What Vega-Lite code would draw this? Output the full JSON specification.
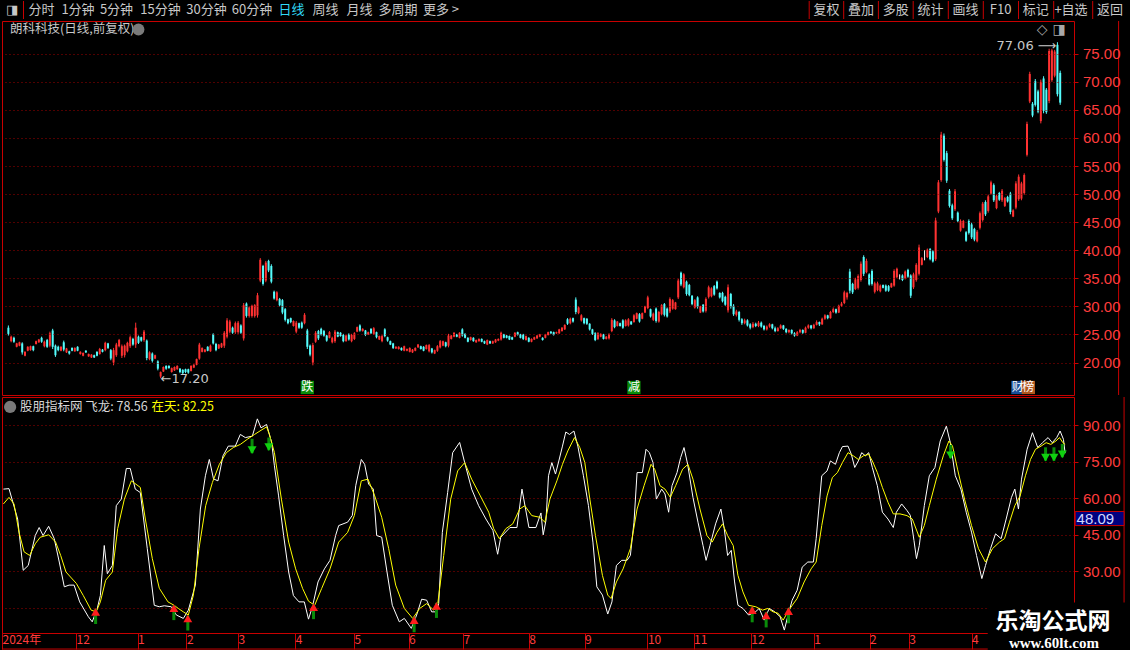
{
  "$schema": "https://vega.github.io/schema/vega-lite/v6.json",
  "background": "#000000",
  "padding": 0,
  "spacing": 0,
  "config": {
    "font": "Noto Sans CJK SC",
    "view": {"stroke": "#c80000", "strokeWidth": 1},
    "concat": {"spacing": 0}
  },
  "datasets": {
    "menu": [
      {"n": -1, "t": "◨"}, {"n": 0, "t": "分时"}, {"n": 1, "t": "1分钟"}, {"n": 2, "t": "5分钟"}, {"n": 3, "t": "15分钟"},
      {"n": 4, "t": "30分钟"}, {"n": 5, "t": "60分钟"}, {"n": 6, "t": "日线"}, {"n": 7, "t": "周线"}, {"n": 8, "t": "月线"},
      {"n": 9, "t": "多周期"}, {"n": 10, "t": "更多 >"}, {"n": 11, "t": "复权"}, {"n": 12, "t": "叠加"}, {"n": 13, "t": "多股"},
      {"n": 14, "t": "统计"}, {"n": 15, "t": "画线"}, {"n": 16, "t": "F10"}, {"n": 17, "t": "标记"}, {"n": 18, "t": "+自选"}, {"n": 19, "t": "返回"}
    ],
    "k": [
      {"i":0,"o":26.2,"h":26.6,"l":24.8,"c":25.1},{"i":1,"o":23.8,"h":24.8,"l":23.6,"c":24.6},{"i":2,"o":24.4,"h":24.6,"l":23.5,"c":23.7},
      {"i":3,"o":22.8,"h":23.5,"l":22.7,"c":23.4},{"i":4,"o":23.0,"h":23.7,"l":22.9,"c":23.6},{"i":5,"o":23.4,"h":23.6,"l":21.4,"c":21.8},
      {"i":6,"o":21.2,"h":22.0,"l":21.1,"c":21.9},{"i":7,"o":22.1,"h":22.9,"l":22.0,"c":22.8},{"i":8,"o":22.2,"h":23.0,"l":22.1,"c":22.9},
      {"i":9,"o":22.9,"h":23.0,"l":22.0,"c":22.2},{"i":10,"o":23.3,"h":23.9,"l":23.2,"c":23.8},{"i":11,"o":23.6,"h":24.2,"l":23.5,"c":24.1},
      {"i":12,"o":24.4,"h":24.6,"l":23.5,"c":23.7},{"i":13,"o":22.9,"h":23.9,"l":22.7,"c":23.7},{"i":14,"o":24.0,"h":24.2,"l":22.6,"c":22.8},
      {"i":15,"o":23.0,"h":25.5,"l":22.7,"c":25.2},{"i":16,"o":25.7,"h":26.0,"l":22.4,"c":22.8},{"i":17,"o":23.0,"h":23.2,"l":21.0,"c":21.3},
      {"i":18,"o":22.8,"h":23.0,"l":22.0,"c":22.2},{"i":19,"o":22.1,"h":22.9,"l":22.0,"c":22.8},{"i":20,"o":23.6,"h":23.9,"l":22.0,"c":22.3},
      {"i":21,"o":21.8,"h":22.6,"l":21.7,"c":22.5},{"i":22,"o":22.0,"h":22.1,"l":21.4,"c":21.6},{"i":23,"o":22.6,"h":22.7,"l":22.0,"c":22.1},
      {"i":24,"o":22.0,"h":22.7,"l":21.9,"c":22.6},{"i":25,"o":22.8,"h":22.9,"l":22.0,"c":22.1},{"i":26,"o":21.5,"h":22.0,"l":21.4,"c":21.9},
      {"i":27,"o":21.2,"h":21.8,"l":21.1,"c":21.7},{"i":28,"o":22.1,"h":22.2,"l":21.7,"c":21.8},{"i":29,"o":21.1,"h":21.6,"l":21.0,"c":21.5},
      {"i":30,"o":20.9,"h":21.5,"l":20.8,"c":21.4},{"i":31,"o":21.3,"h":21.4,"l":20.8,"c":20.9},{"i":32,"o":21.9,"h":22.0,"l":21.1,"c":21.2},
      {"i":33,"o":21.5,"h":22.6,"l":21.4,"c":22.4},{"i":34,"o":22.3,"h":22.4,"l":21.8,"c":21.9},{"i":35,"o":22.2,"h":23.7,"l":22.0,"c":23.5},
      {"i":36,"o":23.4,"h":23.5,"l":22.4,"c":22.6},{"i":37,"o":22.2,"h":22.4,"l":20.4,"c":20.7},{"i":38,"o":20.0,"h":22.6,"l":19.5,"c":22.2},
      {"i":39,"o":21.3,"h":23.5,"l":21.0,"c":23.2},{"i":40,"o":22.9,"h":24.2,"l":22.7,"c":24.0},{"i":41,"o":21.2,"h":23.2,"l":20.8,"c":22.9},
      {"i":42,"o":21.3,"h":23.2,"l":20.9,"c":23.0},{"i":43,"o":22.0,"h":23.7,"l":21.8,"c":23.5},{"i":44,"o":22.9,"h":24.8,"l":22.6,"c":24.5},
      {"i":45,"o":24.2,"h":24.4,"l":23.0,"c":23.2},{"i":46,"o":23.2,"h":27.1,"l":22.6,"c":26.2},{"i":47,"o":24.6,"h":24.8,"l":23.3,"c":23.5},
      {"i":48,"o":24.5,"h":24.6,"l":23.7,"c":23.9},{"i":49,"o":24.0,"h":25.8,"l":23.7,"c":25.5},{"i":50,"o":23.9,"h":24.1,"l":20.4,"c":20.8},
      {"i":51,"o":20.6,"h":22.0,"l":20.4,"c":21.8},{"i":52,"o":21.6,"h":21.8,"l":20.0,"c":20.3},{"i":53,"o":20.7,"h":21.4,"l":20.6,"c":21.3},
      {"i":54,"o":20.2,"h":20.4,"l":18.6,"c":18.9},{"i":55,"o":17.5,"h":18.4,"l":17.2,"c":18.3},{"i":56,"o":18.4,"h":19.3,"l":18.3,"c":19.2},
      {"i":57,"o":19.4,"h":19.5,"l":18.7,"c":18.9},{"i":58,"o":19.4,"h":19.5,"l":18.9,"c":19.0},{"i":59,"o":18.3,"h":19.1,"l":18.2,"c":19.0},
      {"i":60,"o":18.6,"h":19.3,"l":18.5,"c":19.2},{"i":61,"o":18.8,"h":19.5,"l":18.7,"c":19.4},{"i":62,"o":18.9,"h":19.0,"l":18.1,"c":18.3},
      {"i":63,"o":18.7,"h":18.8,"l":17.9,"c":18.1},{"i":64,"o":18.8,"h":18.9,"l":18.1,"c":18.3},{"i":65,"o":18.8,"h":18.9,"l":18.0,"c":18.2},
      {"i":66,"o":18.5,"h":19.5,"l":18.4,"c":19.4},{"i":67,"o":19.1,"h":19.7,"l":19.0,"c":19.6},{"i":68,"o":19.6,"h":20.7,"l":19.5,"c":20.6},
      {"i":69,"o":20.7,"h":23.5,"l":20.5,"c":23.2},{"i":70,"o":21.9,"h":22.7,"l":21.8,"c":22.6},{"i":71,"o":21.9,"h":22.4,"l":21.8,"c":22.3},
      {"i":72,"o":22.8,"h":22.9,"l":22.0,"c":22.1},{"i":73,"o":22.0,"h":23.2,"l":21.9,"c":23.0},{"i":74,"o":25.0,"h":25.2,"l":23.2,"c":23.4},
      {"i":75,"o":23.3,"h":23.5,"l":22.0,"c":22.2},{"i":76,"o":22.5,"h":23.3,"l":22.4,"c":23.2},{"i":77,"o":22.7,"h":23.5,"l":22.6,"c":23.4},
      {"i":78,"o":23.0,"h":25.6,"l":22.6,"c":25.3},{"i":79,"o":24.6,"h":27.9,"l":24.3,"c":27.5},{"i":80,"o":25.5,"h":27.6,"l":25.2,"c":27.3},
      {"i":81,"o":26.2,"h":26.4,"l":25.1,"c":25.3},{"i":82,"o":25.4,"h":27.3,"l":25.1,"c":27.0},{"i":83,"o":25.4,"h":27.4,"l":25.1,"c":27.1},
      {"i":84,"o":26.6,"h":26.8,"l":25.1,"c":25.3},{"i":85,"o":24.3,"h":30.6,"l":23.9,"c":30.2},{"i":86,"o":30.5,"h":30.7,"l":28.0,"c":28.3},
      {"i":87,"o":28.3,"h":30.0,"l":28.0,"c":29.8},{"i":88,"o":28.3,"h":30.3,"l":28.0,"c":30.1},{"i":89,"o":28.3,"h":30.4,"l":28.0,"c":30.2},
      {"i":90,"o":28.4,"h":32.4,"l":28.0,"c":32.0},{"i":91,"o":34.6,"h":38.6,"l":34.3,"c":38.3},{"i":92,"o":37.2,"h":37.4,"l":33.7,"c":34.0},
      {"i":93,"o":34.6,"h":38.1,"l":34.3,"c":37.8},{"i":94,"o":38.1,"h":38.3,"l":36.1,"c":36.4},{"i":95,"o":37.2,"h":37.5,"l":34.1,"c":34.4},
      {"i":96,"o":32.6,"h":32.8,"l":31.2,"c":31.4},{"i":97,"o":31.1,"h":32.7,"l":30.9,"c":32.5},{"i":98,"o":31.3,"h":31.5,"l":30.0,"c":30.2},
      {"i":99,"o":31.1,"h":31.3,"l":28.6,"c":28.9},{"i":100,"o":29.5,"h":29.7,"l":27.3,"c":27.6},{"i":101,"o":27.7,"h":27.8,"l":26.8,"c":27.0},
      {"i":102,"o":27.9,"h":28.0,"l":27.0,"c":27.2},{"i":103,"o":26.5,"h":27.5,"l":26.4,"c":27.4},{"i":104,"o":25.5,"h":27.4,"l":25.2,"c":27.1},
      {"i":105,"o":27.0,"h":27.1,"l":26.0,"c":26.2},{"i":106,"o":27.1,"h":27.3,"l":26.0,"c":26.2},{"i":107,"o":27.0,"h":28.8,"l":26.8,"c":28.5},
      {"i":108,"o":25.7,"h":26.0,"l":22.4,"c":22.8},{"i":109,"o":23.0,"h":23.2,"l":21.1,"c":21.4},{"i":110,"o":20.0,"h":23.5,"l":19.5,"c":23.1},
      {"i":111,"o":23.7,"h":25.6,"l":23.5,"c":25.3},{"i":112,"o":25.6,"h":25.8,"l":24.0,"c":24.3},{"i":113,"o":26.0,"h":26.2,"l":24.8,"c":25.0},
      {"i":114,"o":25.6,"h":25.8,"l":24.6,"c":24.8},{"i":115,"o":24.8,"h":24.9,"l":23.7,"c":23.9},{"i":116,"o":24.4,"h":25.6,"l":24.3,"c":25.4},
      {"i":117,"o":23.6,"h":24.6,"l":23.4,"c":24.4},{"i":118,"o":23.8,"h":25.8,"l":23.5,"c":25.5},{"i":119,"o":25.4,"h":25.5,"l":24.5,"c":24.6},
      {"i":120,"o":25.3,"h":25.4,"l":24.6,"c":24.7},{"i":121,"o":24.9,"h":25.1,"l":23.6,"c":23.8},{"i":122,"o":23.8,"h":24.9,"l":23.7,"c":24.8},
      {"i":123,"o":25.0,"h":25.2,"l":23.9,"c":24.1},{"i":124,"o":23.8,"h":25.1,"l":23.6,"c":24.9},{"i":125,"o":24.2,"h":25.4,"l":24.0,"c":25.2},
      {"i":126,"o":25.5,"h":26.4,"l":25.4,"c":26.3},{"i":127,"o":26.6,"h":26.8,"l":25.5,"c":25.7},{"i":128,"o":25.6,"h":26.1,"l":25.5,"c":26.0},
      {"i":129,"o":25.7,"h":25.8,"l":24.7,"c":24.9},{"i":130,"o":25.0,"h":25.5,"l":24.9,"c":25.4},{"i":131,"o":26.0,"h":26.1,"l":25.1,"c":25.2},
      {"i":132,"o":25.1,"h":26.3,"l":24.9,"c":26.1},{"i":133,"o":25.4,"h":25.5,"l":24.3,"c":24.5},{"i":134,"o":24.1,"h":24.8,"l":24.0,"c":24.7},
      {"i":135,"o":23.8,"h":24.9,"l":23.6,"c":24.7},{"i":136,"o":25.9,"h":26.1,"l":24.5,"c":24.7},{"i":137,"o":24.5,"h":24.6,"l":23.7,"c":23.9},
      {"i":138,"o":23.8,"h":23.9,"l":23.1,"c":23.2},{"i":139,"o":23.4,"h":23.5,"l":22.4,"c":22.6},{"i":140,"o":22.5,"h":22.9,"l":22.4,"c":22.8},
      {"i":141,"o":22.4,"h":22.9,"l":22.3,"c":22.8},{"i":142,"o":22.6,"h":22.7,"l":22.1,"c":22.2},{"i":143,"o":22.1,"h":23.0,"l":22.0,"c":22.9},
      {"i":144,"o":22.1,"h":22.5,"l":22.0,"c":22.4},{"i":145,"o":21.9,"h":22.7,"l":21.8,"c":22.6},{"i":146,"o":21.8,"h":22.4,"l":21.7,"c":22.3},
      {"i":147,"o":22.1,"h":22.7,"l":22.0,"c":22.6},{"i":148,"o":22.7,"h":23.3,"l":22.6,"c":23.2},{"i":149,"o":22.9,"h":23.0,"l":22.3,"c":22.4},
      {"i":150,"o":22.8,"h":22.9,"l":22.0,"c":22.1},{"i":151,"o":22.4,"h":23.2,"l":22.3,"c":23.1},{"i":152,"o":22.0,"h":23.3,"l":21.8,"c":23.1},
      {"i":153,"o":22.5,"h":22.6,"l":21.6,"c":21.8},{"i":154,"o":21.6,"h":22.3,"l":21.5,"c":22.2},{"i":155,"o":22.1,"h":23.1,"l":21.9,"c":22.9},
      {"i":156,"o":22.7,"h":24.0,"l":22.5,"c":23.8},{"i":157,"o":23.0,"h":23.9,"l":22.9,"c":23.8},{"i":158,"o":23.6,"h":23.7,"l":22.7,"c":22.9},
      {"i":159,"o":23.0,"h":25.1,"l":22.7,"c":24.8},{"i":160,"o":24.2,"h":24.9,"l":24.1,"c":24.8},{"i":161,"o":24.6,"h":25.4,"l":24.5,"c":25.3},
      {"i":162,"o":25.0,"h":25.1,"l":24.5,"c":24.6},{"i":163,"o":24.4,"h":25.4,"l":24.3,"c":25.3},{"i":164,"o":25.9,"h":26.1,"l":24.6,"c":24.8},
      {"i":165,"o":25.1,"h":25.2,"l":24.3,"c":24.4},{"i":166,"o":24.4,"h":24.5,"l":23.6,"c":23.7},{"i":167,"o":24.0,"h":24.6,"l":23.9,"c":24.5},
      {"i":168,"o":24.4,"h":24.5,"l":23.7,"c":23.8},{"i":169,"o":23.6,"h":24.1,"l":23.5,"c":24.0},{"i":170,"o":23.8,"h":24.3,"l":23.7,"c":24.2},
      {"i":171,"o":24.2,"h":24.3,"l":23.6,"c":23.7},{"i":172,"o":23.8,"h":23.9,"l":23.3,"c":23.4},{"i":173,"o":23.2,"h":24.1,"l":23.1,"c":24.0},
      {"i":174,"o":23.8,"h":23.9,"l":23.3,"c":23.4},{"i":175,"o":23.4,"h":23.9,"l":23.3,"c":23.8},{"i":176,"o":23.6,"h":24.2,"l":23.5,"c":24.1},
      {"i":177,"o":23.9,"h":24.3,"l":23.8,"c":24.2},{"i":178,"o":24.1,"h":25.5,"l":23.9,"c":25.3},{"i":179,"o":25.0,"h":25.1,"l":24.3,"c":24.4},
      {"i":180,"o":24.8,"h":24.9,"l":24.3,"c":24.4},{"i":181,"o":24.7,"h":24.8,"l":24.0,"c":24.1},{"i":182,"o":24.5,"h":24.6,"l":24.0,"c":24.1},
      {"i":183,"o":24.6,"h":25.4,"l":24.5,"c":25.3},{"i":184,"o":25.4,"h":25.5,"l":24.8,"c":24.9},{"i":185,"o":25.0,"h":25.1,"l":24.3,"c":24.4},
      {"i":186,"o":25.0,"h":25.1,"l":24.0,"c":24.2},{"i":187,"o":24.0,"h":24.8,"l":23.9,"c":24.7},{"i":188,"o":24.4,"h":24.5,"l":23.6,"c":23.7},
      {"i":189,"o":23.7,"h":24.3,"l":23.6,"c":24.2},{"i":190,"o":24.1,"h":24.6,"l":24.0,"c":24.5},{"i":191,"o":24.3,"h":24.9,"l":24.2,"c":24.8},
      {"i":192,"o":24.6,"h":25.1,"l":24.5,"c":25.0},{"i":193,"o":24.4,"h":24.5,"l":23.9,"c":24.0},{"i":194,"o":24.4,"h":25.1,"l":24.3,"c":25.0},
      {"i":195,"o":24.9,"h":25.5,"l":24.8,"c":25.4},{"i":196,"o":25.5,"h":25.6,"l":25.1,"c":25.2},{"i":197,"o":25.4,"h":25.5,"l":24.8,"c":24.9},
      {"i":198,"o":25.2,"h":25.5,"l":25.1,"c":25.4},{"i":199,"o":25.2,"h":26.0,"l":25.1,"c":25.9},{"i":200,"o":25.6,"h":26.3,"l":25.5,"c":26.2},
      {"i":201,"o":25.9,"h":26.8,"l":25.8,"c":26.7},{"i":202,"o":27.7,"h":27.9,"l":26.7,"c":26.9},{"i":203,"o":27.0,"h":28.0,"l":26.8,"c":27.8},
      {"i":204,"o":27.9,"h":28.0,"l":27.1,"c":27.3},{"i":205,"o":31.2,"h":31.6,"l":28.6,"c":29.0},{"i":206,"o":28.8,"h":30.0,"l":28.6,"c":29.8},
      {"i":207,"o":27.5,"h":28.6,"l":27.3,"c":28.4},{"i":208,"o":27.9,"h":28.0,"l":26.8,"c":27.0},{"i":209,"o":27.8,"h":27.9,"l":26.7,"c":26.9},
      {"i":210,"o":26.9,"h":27.0,"l":25.7,"c":25.9},{"i":211,"o":25.9,"h":26.0,"l":24.9,"c":25.1},{"i":212,"o":25.2,"h":25.4,"l":23.8,"c":24.0},
      {"i":213,"o":24.2,"h":25.4,"l":24.0,"c":25.2},{"i":214,"o":24.6,"h":25.2,"l":24.5,"c":25.1},{"i":215,"o":25.0,"h":25.1,"l":24.1,"c":24.2},
      {"i":216,"o":24.2,"h":24.7,"l":24.1,"c":24.6},{"i":217,"o":24.3,"h":25.2,"l":24.1,"c":25.0},{"i":218,"o":25.6,"h":27.9,"l":25.4,"c":27.6},
      {"i":219,"o":27.5,"h":27.7,"l":26.1,"c":26.3},{"i":220,"o":26.5,"h":27.4,"l":26.4,"c":27.3},{"i":221,"o":27.0,"h":27.1,"l":26.4,"c":26.5},
      {"i":222,"o":27.5,"h":27.7,"l":26.0,"c":26.2},{"i":223,"o":26.5,"h":27.7,"l":26.4,"c":27.5},{"i":224,"o":26.6,"h":27.9,"l":26.4,"c":27.7},
      {"i":225,"o":27.3,"h":27.4,"l":26.7,"c":26.8},{"i":226,"o":27.2,"h":28.6,"l":27.1,"c":28.4},{"i":227,"o":27.8,"h":28.9,"l":27.7,"c":28.8},
      {"i":228,"o":28.6,"h":28.8,"l":27.1,"c":27.3},{"i":229,"o":27.8,"h":28.9,"l":27.7,"c":28.8},{"i":230,"o":28.9,"h":30.1,"l":28.8,"c":30.0},
      {"i":231,"o":29.7,"h":31.9,"l":29.5,"c":31.6},{"i":232,"o":29.5,"h":29.6,"l":28.0,"c":28.2},{"i":233,"o":27.6,"h":28.9,"l":27.4,"c":28.7},
      {"i":234,"o":29.6,"h":29.8,"l":27.1,"c":27.4},{"i":235,"o":27.3,"h":29.2,"l":27.1,"c":29.0},{"i":236,"o":28.6,"h":30.4,"l":28.4,"c":30.2},
      {"i":237,"o":30.4,"h":30.6,"l":28.2,"c":28.5},{"i":238,"o":29.6,"h":29.8,"l":28.0,"c":28.2},{"i":239,"o":29.1,"h":31.6,"l":28.8,"c":31.3},
      {"i":240,"o":29.6,"h":31.3,"l":29.4,"c":31.1},{"i":241,"o":29.5,"h":30.8,"l":29.4,"c":30.7},{"i":242,"o":31.6,"h":34.9,"l":31.3,"c":34.6},
      {"i":243,"o":36.0,"h":36.2,"l":33.6,"c":33.9},{"i":244,"o":33.4,"h":35.9,"l":33.2,"c":35.7},{"i":245,"o":34.4,"h":34.6,"l":31.9,"c":32.2},
      {"i":246,"o":33.8,"h":34.0,"l":31.8,"c":32.0},{"i":247,"o":31.9,"h":32.0,"l":30.2,"c":30.4},{"i":248,"o":29.8,"h":31.3,"l":29.6,"c":31.1},
      {"i":249,"o":31.6,"h":31.8,"l":29.6,"c":29.9},{"i":250,"o":28.9,"h":30.1,"l":28.8,"c":30.0},{"i":251,"o":30.3,"h":30.4,"l":28.9,"c":29.1},
      {"i":252,"o":29.2,"h":31.6,"l":28.9,"c":31.3},{"i":253,"o":31.7,"h":33.7,"l":31.4,"c":33.4},{"i":254,"o":31.8,"h":33.4,"l":31.6,"c":33.2},
      {"i":255,"o":33.6,"h":33.8,"l":31.9,"c":32.1},{"i":256,"o":34.4,"h":34.6,"l":33.0,"c":33.2},{"i":257,"o":32.4,"h":32.5,"l":31.4,"c":31.6},
      {"i":258,"o":32.4,"h":32.6,"l":30.7,"c":30.9},{"i":259,"o":31.7,"h":31.9,"l":30.1,"c":30.3},{"i":260,"o":29.3,"h":33.9,"l":28.9,"c":33.4},
      {"i":261,"o":32.2,"h":32.4,"l":29.6,"c":30.0},{"i":262,"o":30.1,"h":30.4,"l":28.3,"c":28.6},{"i":263,"o":28.5,"h":29.4,"l":28.2,"c":29.1},
      {"i":264,"o":29.0,"h":29.2,"l":27.3,"c":27.6},{"i":265,"o":27.7,"h":27.9,"l":26.7,"c":27.0},{"i":266,"o":27.0,"h":27.8,"l":26.8,"c":27.5},
      {"i":267,"o":27.5,"h":27.7,"l":26.4,"c":26.6},{"i":268,"o":26.8,"h":27.0,"l":25.9,"c":26.2},{"i":269,"o":26.3,"h":27.2,"l":26.1,"c":26.9},
      {"i":270,"o":26.9,"h":27.1,"l":26.3,"c":26.5},{"i":271,"o":26.5,"h":27.4,"l":26.3,"c":27.1},{"i":272,"o":27.1,"h":27.3,"l":26.2,"c":26.4},
      {"i":273,"o":26.5,"h":26.7,"l":25.7,"c":25.9},{"i":274,"o":25.9,"h":26.6,"l":25.7,"c":26.4},{"i":275,"o":26.4,"h":27.0,"l":26.2,"c":26.8},
      {"i":276,"o":26.8,"h":26.9,"l":25.9,"c":26.1},{"i":277,"o":26.1,"h":26.4,"l":25.4,"c":25.6},{"i":278,"o":25.6,"h":26.3,"l":25.5,"c":26.1},
      {"i":279,"o":26.1,"h":26.8,"l":26.0,"c":26.6},{"i":280,"o":26.6,"h":26.7,"l":25.8,"c":26.0},{"i":281,"o":26.0,"h":26.1,"l":25.2,"c":25.4},
      {"i":282,"o":25.4,"h":25.9,"l":25.2,"c":25.8},{"i":283,"o":25.8,"h":25.9,"l":25.0,"c":25.2},{"i":284,"o":25.2,"h":25.4,"l":24.6,"c":24.8},
      {"i":285,"o":24.8,"h":25.6,"l":24.7,"c":25.4},{"i":286,"o":25.4,"h":26.0,"l":25.2,"c":25.8},{"i":287,"o":25.8,"h":25.9,"l":25.1,"c":25.3},
      {"i":288,"o":25.3,"h":26.4,"l":25.2,"c":26.2},{"i":289,"o":26.2,"h":26.8,"l":26.0,"c":26.6},{"i":290,"o":26.6,"h":26.7,"l":25.9,"c":26.1},
      {"i":291,"o":26.1,"h":26.9,"l":26.0,"c":26.7},{"i":292,"o":26.7,"h":27.5,"l":26.6,"c":27.2},{"i":293,"o":27.2,"h":27.3,"l":26.5,"c":26.8},
      {"i":294,"o":26.8,"h":28.0,"l":26.7,"c":27.8},{"i":295,"o":27.8,"h":28.6,"l":27.6,"c":28.4},{"i":296,"o":28.4,"h":28.5,"l":27.7,"c":27.9},
      {"i":297,"o":27.9,"h":29.2,"l":27.8,"c":29.0},{"i":298,"o":29.0,"h":29.8,"l":28.8,"c":29.5},{"i":299,"o":29.5,"h":29.6,"l":28.7,"c":28.9},
      {"i":300,"o":28.9,"h":30.3,"l":28.8,"c":30.1},{"i":301,"o":30.1,"h":30.8,"l":29.9,"c":30.5},{"i":302,"o":30.6,"h":32.8,"l":30.4,"c":32.5},
      {"i":303,"o":31.6,"h":32.6,"l":31.2,"c":32.4},{"i":304,"o":36.2,"h":36.7,"l":32.3,"c":32.8},{"i":305,"o":34.0,"h":34.2,"l":32.2,"c":32.5},
      {"i":306,"o":33.1,"h":35.1,"l":32.9,"c":34.8},{"i":307,"o":33.3,"h":35.7,"l":33.0,"c":35.4},{"i":308,"o":34.7,"h":38.0,"l":34.4,"c":37.6},
      {"i":309,"o":38.8,"h":39.1,"l":35.4,"c":35.8},{"i":310,"o":36.1,"h":38.5,"l":35.9,"c":38.1},{"i":311,"o":35.7,"h":35.9,"l":33.7,"c":33.9},
      {"i":312,"o":36.3,"h":36.6,"l":33.7,"c":34.0},{"i":313,"o":32.6,"h":34.4,"l":32.3,"c":34.1},{"i":314,"o":32.9,"h":34.4,"l":32.7,"c":34.1},
      {"i":315,"o":32.7,"h":33.9,"l":32.5,"c":33.7},{"i":316,"o":33.8,"h":33.9,"l":33.2,"c":33.3},{"i":317,"o":33.7,"h":33.9,"l":32.6,"c":32.8},
      {"i":318,"o":33.6,"h":33.8,"l":32.6,"c":32.8},{"i":319,"o":33.4,"h":34.2,"l":33.3,"c":34.1},{"i":320,"o":33.7,"h":36.6,"l":33.5,"c":36.3},
      {"i":321,"o":35.2,"h":36.9,"l":35.0,"c":36.7},{"i":322,"o":35.3,"h":35.7,"l":34.8,"c":35.3},{"i":323,"o":35.5,"h":35.7,"l":34.5,"c":34.7},
      {"i":324,"o":35.0,"h":36.4,"l":34.8,"c":36.2},{"i":325,"o":36.5,"h":36.7,"l":35.1,"c":35.3},{"i":326,"o":35.5,"h":35.7,"l":31.5,"c":31.9},
      {"i":327,"o":33.4,"h":36.0,"l":33.1,"c":35.7},{"i":328,"o":34.7,"h":37.7,"l":34.4,"c":37.4},{"i":329,"o":35.8,"h":41.0,"l":35.5,"c":40.5},
      {"i":330,"o":37.4,"h":38.8,"l":37.3,"c":38.6},{"i":331,"o":39.1,"h":40.0,"l":38.2,"c":39.1},{"i":332,"o":38.8,"h":40.3,"l":38.6,"c":40.1},
      {"i":333,"o":40.2,"h":40.4,"l":38.2,"c":38.4},{"i":334,"o":39.8,"h":40.0,"l":37.8,"c":38.0},{"i":335,"o":38.4,"h":45.8,"l":38.1,"c":45.3},
      {"i":336,"o":46.9,"h":52.5,"l":46.6,"c":52.1},{"i":337,"o":52.5,"h":61.1,"l":52.2,"c":60.6},{"i":338,"o":60.4,"h":60.8,"l":55.8,"c":56.1},
      {"i":339,"o":57.3,"h":57.7,"l":52.0,"c":52.4},{"i":340,"o":50.6,"h":50.9,"l":47.6,"c":47.9},{"i":341,"o":48.0,"h":48.3,"l":45.4,"c":45.7},
      {"i":342,"o":47.3,"h":50.9,"l":47.0,"c":50.5},{"i":343,"o":46.7,"h":46.9,"l":45.0,"c":45.2},{"i":344,"o":43.5,"h":45.5,"l":43.3,"c":45.2},
      {"i":345,"o":44.0,"h":45.4,"l":43.9,"c":45.2},{"i":346,"o":43.2,"h":43.4,"l":41.5,"c":41.7},{"i":347,"o":45.2,"h":45.5,"l":42.8,"c":43.1},
      {"i":348,"o":44.6,"h":44.9,"l":42.0,"c":42.3},{"i":349,"o":43.8,"h":44.0,"l":41.6,"c":41.9},{"i":350,"o":41.6,"h":43.6,"l":41.4,"c":43.3},
      {"i":351,"o":44.0,"h":46.9,"l":43.7,"c":46.6},{"i":352,"o":45.4,"h":48.6,"l":45.1,"c":48.3},{"i":353,"o":48.6,"h":48.9,"l":46.1,"c":46.4},
      {"i":354,"o":47.0,"h":49.9,"l":46.7,"c":49.6},{"i":355,"o":50.1,"h":52.4,"l":49.9,"c":52.1},{"i":356,"o":51.6,"h":51.9,"l":48.6,"c":48.9},
      {"i":357,"o":47.5,"h":49.9,"l":47.3,"c":49.7},{"i":358,"o":50.2,"h":50.4,"l":48.8,"c":49.0},{"i":359,"o":48.9,"h":50.9,"l":48.6,"c":50.6},
      {"i":360,"o":47.9,"h":49.5,"l":47.7,"c":49.3},{"i":361,"o":49.5,"h":49.7,"l":48.5,"c":48.7},{"i":362,"o":50.1,"h":50.4,"l":46.4,"c":46.8},
      {"i":363,"o":46.0,"h":47.3,"l":45.9,"c":47.1},{"i":364,"o":47.6,"h":52.3,"l":47.3,"c":51.9},{"i":365,"o":49.1,"h":53.5,"l":48.8,"c":53.1},
      {"i":366,"o":49.2,"h":52.2,"l":48.9,"c":51.9},{"i":367,"o":50.2,"h":53.7,"l":49.9,"c":53.4},{"i":368,"o":57.0,"h":62.9,"l":56.7,"c":62.5},
      {"i":369,"o":66.5,"h":71.8,"l":66.2,"c":71.4},{"i":370,"o":66.1,"h":66.4,"l":63.7,"c":64.0},{"i":371,"o":70.1,"h":70.5,"l":65.6,"c":65.9},
      {"i":372,"o":68.3,"h":68.6,"l":64.4,"c":64.7},{"i":373,"o":63.0,"h":70.4,"l":62.6,"c":70.0},{"i":374,"o":70.6,"h":71.0,"l":64.4,"c":64.8},
      {"i":375,"o":68.6,"h":68.9,"l":64.3,"c":64.6},{"i":376,"o":66.6,"h":75.9,"l":66.2,"c":75.5},{"i":377,"o":70.3,"h":75.9,"l":70.0,"c":75.6},
      {"i":378,"o":71.1,"h":75.7,"l":70.8,"c":75.4},{"i":379,"o":76.6,"h":77.06,"l":67.4,"c":67.8},{"i":380,"o":71.6,"h":72.0,"l":65.9,"c":66.3}
    ],
    "fei": [
      {"i":0,"v":63.8},{"i":2,"v":64},{"i":5.1,"v":51.5},{"i":7.1,"v":30.4},{"i":8.9,"v":32.4},{"i":11.4,"v":44.7},{"i":12.8,"v":48},{"i":14.2,"v":44.7},
      {"i":16.2,"v":48.5},{"i":18.2,"v":43.4},{"i":20,"v":33.8},{"i":21.8,"v":23.6},{"i":23.5,"v":24.3},{"i":25.3,"v":24.3},{"i":27.3,"v":17.4},{"i":30.4,"v":11.3},
      {"i":31.8,"v":9.2},{"i":33.6,"v":14.7},{"i":34.7,"v":20},{"i":36.1,"v":40.6},{"i":37.2,"v":29},{"i":39,"v":32.4},{"i":40.4,"v":57},{"i":42.2,"v":59.7},
      {"i":44,"v":72.3},{"i":45.4,"v":72.3},{"i":47.2,"v":63.8},{"i":49,"v":62.4},{"i":51.5,"v":39.3},{"i":54,"v":16},{"i":55.8,"v":15.4},{"i":57.6,"v":15.8},
      {"i":60.1,"v":15.4},{"i":61.9,"v":12},{"i":64.4,"v":10.6},{"i":66.2,"v":14},{"i":68.7,"v":24.3},{"i":70.5,"v":55.6},{"i":72.3,"v":69.3},{"i":73.7,"v":76},
      {"i":75.2,"v":68},{"i":76.8,"v":67.2},{"i":78.6,"v":77.5},{"i":80.5,"v":81.5},{"i":83,"v":81.5},{"i":84.8,"v":86.3},{"i":86.6,"v":85},{"i":89.1,"v":85.6},
      {"i":90.9,"v":92.7},{"i":92.2,"v":89},{"i":94.2,"v":90.4},{"i":96,"v":83},{"i":97,"v":73.4},{"i":98.5,"v":61},{"i":100.3,"v":44.7},{"i":102.1,"v":29.7},
      {"i":103.8,"v":20},{"i":105.8,"v":17.4},{"i":107.7,"v":17.4},{"i":109.2,"v":10.3},{"i":110.6,"v":15.4},{"i":112.6,"v":25.6},{"i":114.9,"v":31},{"i":116.9,"v":34.5},
      {"i":118.9,"v":44.7},{"i":120,"v":48.8},{"i":123.2,"v":50.2},{"i":124.9,"v":53},{"i":126.1,"v":65.2},{"i":128.1,"v":76},{"i":129.3,"v":74},{"i":130.7,"v":65.9},
      {"i":132.4,"v":63.8},{"i":133.6,"v":44.7},{"i":135.4,"v":44},{"i":137.3,"v":29.7},{"i":139.2,"v":16},{"i":141.7,"v":9.2},{"i":143.5,"v":10.6},{"i":146,"v":6.5},
      {"i":147.9,"v":12},{"i":149.7,"v":18.5},{"i":151.5,"v":18.1},{"i":153.3,"v":13.3},{"i":155.1,"v":13.3},{"i":155.8,"v":16.7},{"i":157.1,"v":46},{"i":159,"v":62.4},
      {"i":160.8,"v":78.8},{"i":163.3,"v":83},{"i":165.1,"v":74.7},{"i":167.6,"v":63.8},{"i":170.1,"v":57},{"i":172.7,"v":51.5},{"i":175.2,"v":46.8},{"i":176.9,"v":37},
      {"i":178,"v":44},{"i":181.3,"v":48},{"i":183.8,"v":48},{"i":185.6,"v":63.8},{"i":188.1,"v":48},{"i":190.6,"v":48},{"i":192.4,"v":54},{"i":193.2,"v":45},
      {"i":194.2,"v":51},{"i":195.1,"v":69.3},{"i":196.3,"v":74.7},{"i":197.6,"v":70},{"i":198.8,"v":75.4},{"i":200.1,"v":81.5},{"i":201.3,"v":87.3},{"i":202.6,"v":86.3},
      {"i":204.2,"v":87.7},{"i":205.6,"v":81.5},{"i":207.6,"v":69.3},{"i":209.4,"v":57},{"i":211,"v":42},{"i":212.4,"v":23.6},{"i":214.4,"v":20.2},{"i":216.3,"v":12.4},
      {"i":217.8,"v":17.4},{"i":219.4,"v":32.4},{"i":221.3,"v":34.5},{"i":223.2,"v":34.5},{"i":224.4,"v":36.5},{"i":225.7,"v":50.2},{"i":226.8,"v":70.6},{"i":228.7,"v":70.6},
      {"i":230,"v":80.2},{"i":231.2,"v":78.8},{"i":232.5,"v":74.7},{"i":233.7,"v":59.7},{"i":235.6,"v":63.8},{"i":236.8,"v":61.8},{"i":238.1,"v":54.3},{"i":239.3,"v":65.2},
      {"i":241.1,"v":70.6},{"i":242.4,"v":76.8},{"i":243.6,"v":80.9},{"i":244.9,"v":74},{"i":246.8,"v":60.4},{"i":248.6,"v":50.2},{"i":250.4,"v":40.6},{"i":251.5,"v":34.5},
      {"i":252.9,"v":40.6},{"i":254.9,"v":49.5},{"i":256.8,"v":55.6},{"i":258,"v":47.5},{"i":259.2,"v":36.5},{"i":260.5,"v":38.6},{"i":261.7,"v":25.6},{"i":262.9,"v":16},
      {"i":264.7,"v":14.7},{"i":266.7,"v":12},{"i":268.6,"v":12.7},{"i":270.5,"v":14.7},{"i":272.3,"v":9.9},{"i":274.1,"v":14.7},{"i":276.1,"v":13.3},{"i":278,"v":11.3},
      {"i":279.5,"v":5.8},{"i":280.7,"v":11.3},{"i":282.3,"v":18.1},{"i":284.1,"v":22.2},{"i":285.9,"v":31.7},{"i":287.9,"v":33.8},{"i":289.9,"v":33.8},{"i":290.9,"v":43.4},
      {"i":292.9,"v":69.3},{"i":294.8,"v":71.3},{"i":296,"v":75.4},{"i":297.8,"v":74},{"i":299.2,"v":78.8},{"i":300.3,"v":81.3},{"i":302.3,"v":81.5},{"i":303.5,"v":78.1},
      {"i":304.7,"v":72.7},{"i":306,"v":75.4},{"i":307.2,"v":78.8},{"i":308.5,"v":77.5},{"i":309.7,"v":78.8},{"i":311,"v":72.7},{"i":312.8,"v":65.2},{"i":314.6,"v":54.3},
      {"i":316.6,"v":51.5},{"i":318.5,"v":48},{"i":319.6,"v":54.3},{"i":321.5,"v":57.7},{"i":323.4,"v":55},{"i":324.6,"v":53},{"i":325.9,"v":42.7},{"i":326.8,"v":35.2},
      {"i":327.8,"v":40.6},{"i":329.6,"v":57},{"i":331.4,"v":69.3},{"i":333.4,"v":72.7},{"i":335.3,"v":83.6},{"i":337.5,"v":89.7},{"i":338.9,"v":83},{"i":340.7,"v":69.3},
      {"i":342.7,"v":63.8},{"i":344.6,"v":54.3},{"i":346.5,"v":46.1},{"i":348.3,"v":36.5},{"i":350.2,"v":27},{"i":351.5,"v":32.4},{"i":353.3,"v":39.3},{"i":355.1,"v":45.4},
      {"i":357.1,"v":43.4},{"i":358.9,"v":51.5},{"i":360.8,"v":60.4},{"i":362,"v":63.8},{"i":363.3,"v":55.6},{"i":364.4,"v":67.9},{"i":366.4,"v":80.2},{"i":368.3,"v":87},
      {"i":370.2,"v":80.9},{"i":371.9,"v":82.9},{"i":373.9,"v":85},{"i":375.4,"v":82.9},{"i":377,"v":85},{"i":378.2,"v":87.7},{"i":379.4,"v":84.3},{"i":380,"v":78.6}
    ],
    "zai": [
      {"i":0,"v":57.7},{"i":2,"v":60.4},{"i":3.8,"v":57.7},{"i":5.6,"v":46},{"i":7.4,"v":38},{"i":9.4,"v":36.5},{"i":11.4,"v":41.3},{"i":13.2,"v":44},
      {"i":16.2,"v":45},{"i":18.7,"v":42},{"i":20.5,"v":36.5},{"i":22.4,"v":29.7},{"i":26.1,"v":25},{"i":28.6,"v":20},{"i":31.4,"v":14},{"i":33.2,"v":13.3},
      {"i":34.7,"v":17.4},{"i":36.6,"v":26.3},{"i":39,"v":29.7},{"i":40.9,"v":47.5},{"i":43.3,"v":59.7},{"i":45.8,"v":67.2},{"i":49,"v":64.5},{"i":50.8,"v":51.5},
      {"i":53.3,"v":35.2},{"i":55.8,"v":23},{"i":58.9,"v":17.4},{"i":61.1,"v":16},{"i":62.6,"v":14.7},{"i":64.4,"v":13.3},{"i":66.2,"v":12},{"i":68,"v":20.2},
      {"i":70,"v":39.3},{"i":72.4,"v":57},{"i":74.8,"v":66.5},{"i":77.3,"v":74},{"i":79.8,"v":78.8},{"i":82.3,"v":80.9},{"i":84.8,"v":82.2},{"i":87.3,"v":84.3},
      {"i":89.9,"v":86.3},{"i":92.2,"v":88},{"i":94.2,"v":89.4},{"i":95.2,"v":86.3},{"i":97,"v":78.8},{"i":99.5,"v":59.7},{"i":102.1,"v":42},{"i":104.6,"v":31},
      {"i":107.1,"v":22.9},{"i":109.2,"v":17.7},{"i":111.4,"v":16},{"i":113.9,"v":22.9},{"i":116.9,"v":31},{"i":120,"v":42},{"i":123.2,"v":46},{"i":125.6,"v":52.9},
      {"i":128.1,"v":67.2},{"i":130.5,"v":67.9},{"i":132.9,"v":61},{"i":135.4,"v":52.2},{"i":137.9,"v":39.3},{"i":140.4,"v":24.3},{"i":143.5,"v":14.7},{"i":146.5,"v":10.6},
      {"i":149,"v":14.7},{"i":151.5,"v":16.7},{"i":154,"v":14},{"i":155.4,"v":16},{"i":157.6,"v":36.5},{"i":160.1,"v":59.7},{"i":162.6,"v":71.3},{"i":165.1,"v":74.7},
      {"i":167.6,"v":67.9},{"i":170.7,"v":61},{"i":173.7,"v":54.3},{"i":175.5,"v":47.5},{"i":177.5,"v":43.4},{"i":179.8,"v":47.5},{"i":182.3,"v":49.5},{"i":184.8,"v":55.6},
      {"i":186.6,"v":57},{"i":189.1,"v":52.9},{"i":192,"v":52.2},{"i":193.8,"v":50.2},{"i":195.6,"v":59.7},{"i":198.1,"v":67.2},{"i":200.1,"v":74},{"i":202,"v":79.5},
      {"i":204.4,"v":85},{"i":206.3,"v":80.9},{"i":208.1,"v":74.7},{"i":209.9,"v":59.7},{"i":211.9,"v":44.7},{"i":214.4,"v":28.3},{"i":216.3,"v":20.2},{"i":217.5,"v":18.8},
      {"i":219.4,"v":25.6},{"i":221.8,"v":31},{"i":224.4,"v":39.3},{"i":226.8,"v":55.6},{"i":229.3,"v":65.2},{"i":231.8,"v":74},{"i":233.1,"v":72},{"i":235,"v":65.2},
      {"i":236.8,"v":63.8},{"i":238.7,"v":60.4},{"i":240.6,"v":65.2},{"i":243.1,"v":72},{"i":245,"v":74},{"i":246.8,"v":67.9},{"i":249.3,"v":55.6},{"i":251.8,"v":44.7},
      {"i":253.7,"v":42},{"i":255.4,"v":46},{"i":257.4,"v":49.5},{"i":259.2,"v":44.7},{"i":261.2,"v":40.6},{"i":262.9,"v":28.3},{"i":264.7,"v":21.5},{"i":266.7,"v":16},
      {"i":269.3,"v":15.4},{"i":271.7,"v":14},{"i":273.6,"v":14.7},{"i":275.5,"v":13.3},{"i":277.3,"v":12.7},{"i":279.1,"v":9.9},{"i":281.1,"v":14},{"i":284.1,"v":18.8},
      {"i":286.6,"v":25.6},{"i":289.1,"v":31},{"i":290.9,"v":33.8},{"i":292.9,"v":48.8},{"i":294.8,"v":61},{"i":296.7,"v":68.6},{"i":298.5,"v":70.6},{"i":300.3,"v":74.7},
      {"i":302.3,"v":78.8},{"i":304.2,"v":77.5},{"i":306,"v":76},{"i":307.8,"v":77.5},{"i":309.7,"v":78.1},{"i":311,"v":75.4},{"i":312.8,"v":70.6},{"i":314.6,"v":64.5},
      {"i":316.6,"v":58.4},{"i":318.5,"v":53.6},{"i":320.9,"v":53.6},{"i":323.4,"v":52.9},{"i":325.3,"v":51.5},{"i":327.8,"v":44},{"i":329.6,"v":48.8},{"i":331.4,"v":57},
      {"i":333.9,"v":67.9},{"i":336.4,"v":77.5},{"i":338.4,"v":83.6},{"i":339.7,"v":81.5},{"i":341.5,"v":72},{"i":344,"v":59.7},{"i":346.5,"v":48.8},{"i":349,"v":39.3},
      {"i":351.5,"v":33.8},{"i":354,"v":39.3},{"i":356.5,"v":42},{"i":358.3,"v":43.4},{"i":360.1,"v":50.2},{"i":362,"v":57},{"i":363.9,"v":61},{"i":365.8,"v":69.3},
      {"i":367.6,"v":76},{"i":369.4,"v":80.2},{"i":371.4,"v":81.5},{"i":373.2,"v":82.9},{"i":374.9,"v":82.2},{"i":376.7,"v":83.6},{"i":378,"v":85},{"i":379.2,"v":82.9},{"i":380,"v":82.2}
    ],
    "arr": [
      {"i":33,"t":14.5,"b":8.3,"k":"up"},{"i":61,"t":16.1,"b":9.9,"k":"up"},{"i":66,"t":11.8,"b":5.6,"k":"up"},
      {"i":111,"t":16.5,"b":10.3,"k":"up"},{"i":147,"t":11.1,"b":4.9,"k":"up"},{"i":155,"t":17,"b":10.8,"k":"up"},
      {"i":268,"t":15.2,"b":9,"k":"up"},{"i":273,"t":13.1,"b":6.9,"k":"up"},{"i":281,"t":14.8,"b":8.6,"k":"up"},
      {"i":89,"t":78.6,"b":84.5,"k":"dn"},{"i":95,"t":79.8,"b":85,"k":"dn"},{"i":339,"t":76.5,"b":82,"k":"dn"},
      {"i":373,"t":75.5,"b":81,"k":"dn"},{"i":376,"t":75.5,"b":81,"k":"dn"},{"i":379,"t":76.9,"b":82.4,"k":"dn"}
    ],
    "sig": [
      {"i":108,"t":"跌"},{"i":226,"t":"减"},{"i":364.7,"t":"财"},{"i":368.5,"t":"榜"}
    ]
  },
  "vconcat": [
    {
      "width": 1130,
      "height": 18,
      "view": {"stroke": null},
      "data": {"name": "menu"},
      "encoding": {
        "x": {
          "field": "n",
          "type": "quantitative",
          "axis": null,
          "scale": {
            "domain": [-1, 0, 1, 2, 3, 4, 5, 6, 7, 8, 9, 10, 11, 12, 13, 14, 15, 16, 17, 18, 19],
            "range": [10, 39.5, 76, 114.5, 158.5, 204.5, 250, 289.5, 323.5, 357.5, 396, 439, 824.5, 859, 893.7, 928.5, 963.6, 998.6, 1033.8, 1069, 1108],
            "zero": false,
            "nice": false
          }
        }
      },
      "layer": [
        {
          "transform": [{"filter": "datum.n >= 11"}],
          "mark": {"type": "rule", "color": "#c80000", "xOffset": -17.3},
          "encoding": {}
        },
        {
          "transform": [{"filter": "datum.n == -1"}],
          "mark": {"type": "rule", "color": "#c80000", "xOffset": 11.5},
          "encoding": {}
        },
        {
          "mark": {"type": "text", "fontSize": 13, "baseline": "middle", "align": "center"},
          "encoding": {
            "text": {"field": "t"},
            "color": {
              "condition": {"test": "datum.t === '日线'", "value": "#30d8f8"},
              "value": "#c8c8c8"
            }
          }
        }
      ]
    },
    {
      "width": 1072,
      "height": 374,
      "resolve": {"axis": {"x": "independent", "y": "independent"}},
      "layer": [
        {
          "data": {"name": "k"},
          "mark": {"type": "rule", "strokeWidth": 1},
          "encoding": {
            "x": {"field": "i", "type": "quantitative", "axis": null, "scale": {"domain": [-0.5, 383.18], "zero": false, "nice": false}},
            "y": {
              "field": "l",
              "type": "quantitative",
              "title": null,
              "scale": {"domain": [14.21, 80.84], "zero": false, "nice": false},
              "axis": {
                "orient": "right",
                "zindex": 1,
                "values": [20, 25, 30, 35, 40, 45, 50, 55, 60, 65, 70, 75],
                "format": ".2f",
                "gridColor": "#a00000",
                "gridDash": [1, 3],
                "domain": false,
                "tickColor": "#c80000",
                "tickSize": 4,
                "labelColor": "#ff3c3c",
                "labelFont": "Liberation Sans",
                "labelFontSize": 15,
                "labelAlign": "right",
                "labelPadding": 42
              }
            },
            "y2": {"field": "h"},
            "color": {
              "condition": [
                {"test": "datum.c > datum.o", "value": "#ff3232"},
                {"test": "datum.c < datum.o", "value": "#54fcfc"}
              ],
              "value": "#ffffff"
            }
          }
        },
        {
          "data": {"name": "k"},
          "mark": {"type": "bar", "width": 2},
          "encoding": {
            "x": {"field": "i", "type": "quantitative", "axis": null},
            "y": {"field": "o", "type": "quantitative", "axis": null},
            "y2": {"field": "c"},
            "color": {
              "condition": [
                {"test": "datum.c > datum.o", "value": "#ff3232"},
                {"test": "datum.c < datum.o", "value": "#54fcfc"}
              ],
              "value": "#ffffff"
            }
          }
        },
        {
          "data": {"name": "sig"},
          "mark": {"type": "point", "shape": "square", "filled": true, "size": 175, "opacity": 1},
          "encoding": {
            "x": {"field": "i", "type": "quantitative", "axis": null},
            "y": {"datum": 15.55, "axis": null},
            "color": {
              "field": "t",
              "type": "nominal",
              "legend": null,
              "scale": {"domain": ["跌", "减", "财", "榜"], "range": ["#0a8c0a", "#0a8c0a", "#1a4e96", "#b0561e"]}
            }
          }
        },
        {
          "data": {"name": "sig"},
          "mark": {"type": "text", "fontSize": 12, "color": "#ffffff", "baseline": "middle", "align": "center"},
          "encoding": {
            "x": {"field": "i", "type": "quantitative", "axis": null},
            "y": {"datum": 15.55, "axis": null},
            "text": {"field": "t"}
          }
        },
        {
          "data": {"values": [{"t": "朗科科技(日线,前复权)"}]},
          "mark": {"type": "text", "fontSize": 12.5, "color": "#c8c8c8", "align": "left", "baseline": "middle"},
          "encoding": {
            "x": {"datum": 0.6, "axis": null},
            "y": {"datum": 79.33, "axis": null},
            "text": {"field": "t"}
          }
        },
        {
          "data": {"values": [{}]},
          "mark": {"type": "point", "shape": "circle", "filled": true, "size": 140, "color": "#7a7a7a", "opacity": 1},
          "encoding": {
            "x": {"datum": 47, "axis": null},
            "y": {"datum": 79.33, "axis": null}
          }
        },
        {
          "data": {"values": [{"t": "◇", "p": 373.5}, {"t": "◨", "p": 379.6}]},
          "mark": {"type": "text", "fontSize": 14, "color": "#a8a8a8", "align": "center", "baseline": "middle", "font": "DejaVu Sans"},
          "encoding": {
            "x": {"field": "p", "type": "quantitative", "axis": null},
            "y": {"datum": 79.2, "axis": null},
            "text": {"field": "t"}
          }
        },
        {
          "data": {"values": [{"t": "←17.20"}]},
          "mark": {"type": "text", "fontSize": 13, "color": "#c8c8c8", "align": "left", "baseline": "middle", "font": "DejaVu Sans", "dy": 1},
          "encoding": {
            "x": {"datum": 55, "axis": null},
            "y": {"datum": 17.2, "axis": null},
            "text": {"field": "t"}
          }
        },
        {
          "data": {"values": [{"t": "77.06 ⟶"}]},
          "mark": {"type": "text", "fontSize": 13, "color": "#c8c8c8", "align": "right", "baseline": "middle", "font": "DejaVu Sans", "dy": 4, "dx": -1},
          "encoding": {
            "x": {"datum": 379, "axis": null},
            "y": {"datum": 77.06, "axis": null},
            "text": {"field": "t"}
          }
        },
        {
          "data": {"values": [{}]},
          "mark": {"type": "rule", "color": "#c80000"},
          "encoding": {"x": {"datum": 401.1, "axis": null}}
        }
      ]
    },
    {
      "width": 1072,
      "height": 236,
      "resolve": {"axis": {"x": "independent", "y": "independent"}},
      "layer": [
        {
          "data": {"name": "fei"},
          "mark": {"type": "line", "color": "#ffffff", "strokeWidth": 1},
          "encoding": {
            "x": {
              "field": "i",
              "type": "quantitative",
              "title": null,
              "scale": {"domain": [-0.5, 383.18], "zero": false, "nice": false},
              "axis": {
                "orient": "bottom",
                "values": [-0.5, 26, 48, 65.5, 84, 104.5, 125.5, 145, 164.5, 188, 208, 230.5, 247, 267.5, 290, 310, 324, 346.5],
                "labelExpr": "['2024年','12','1','2','3','4','5','6','7','8','9','10','11','12','1','2','3','4'][indexof([-0.5,26,48,65.5,84,104.5,125.5,145,164.5,188,208,230.5,247,267.5,290,310,324,346.5], datum.value)]",
                "grid": false,
                "domainColor": "#c80000",
                "tickColor": "#c80000",
                "tickSize": 16,
                "labelColor": "#ff3c3c",
                "labelFontSize": 12,
                "labelAlign": "left",
                "labelBaseline": "top",
                "labelPadding": -15,
                "labelDx": 2,
                "labelOverlap": false,
                "labelFlush": false
              }
            },
            "y": {
              "field": "v",
              "type": "quantitative",
              "title": null,
              "scale": {"domain": [4.6, 101.7], "zero": false, "nice": false},
              "axis": {
                "orient": "right",
                "values": [15, 30, 45, 60, 75, 90],
                "labelExpr": "datum.value === 15 ? '' : format(datum.value, '.2f')",
                "gridColor": "#a00000",
                "gridDash": [1, 3],
                "domain": false,
                "tickColor": "#c80000",
                "tickSize": 4,
                "labelColor": "#ff3c3c",
                "labelFont": "Liberation Sans",
                "labelFontSize": 15,
                "labelAlign": "right",
                "labelPadding": 42
              }
            }
          }
        },
        {
          "data": {"name": "zai"},
          "mark": {"type": "line", "color": "#ffff00", "strokeWidth": 1},
          "encoding": {
            "x": {"field": "i", "type": "quantitative", "axis": null},
            "y": {"field": "v", "type": "quantitative", "axis": null}
          }
        },
        {
          "data": {"name": "arr"},
          "mark": {"type": "rule", "strokeWidth": 3},
          "encoding": {
            "x": {"field": "i", "type": "quantitative", "axis": null},
            "y": {"field": "t", "type": "quantitative", "axis": null},
            "y2": {"field": "b"},
            "color": {"field": "k", "type": "nominal", "legend": null, "scale": {"domain": ["up", "dn"], "range": ["#ff1e1e", "#10d010"]}}
          }
        },
        {
          "data": {"name": "arr"},
          "transform": [{"filter": "datum.k === 'up'"}],
          "mark": {"type": "point", "shape": "triangle-up", "filled": true, "size": 80, "opacity": 1, "color": "#ff1e1e", "yOffset": 3},
          "encoding": {
            "x": {"field": "i", "type": "quantitative", "axis": null},
            "y": {"field": "t", "type": "quantitative", "axis": null}
          }
        },
        {
          "data": {"name": "arr"},
          "transform": [{"filter": "datum.k === 'dn'"}],
          "mark": {"type": "point", "shape": "triangle-down", "filled": true, "size": 80, "opacity": 1, "color": "#10d010", "yOffset": -3},
          "encoding": {
            "x": {"field": "i", "type": "quantitative", "axis": null},
            "y": {"field": "t", "type": "quantitative", "axis": null}
          }
        },
        {
          "data": {"values": [{}]},
          "mark": {"type": "point", "shape": "circle", "filled": true, "size": 150, "color": "#7a7a7a", "opacity": 1},
          "encoding": {
            "x": {"datum": 2.4, "axis": null},
            "y": {"datum": 97.6, "axis": null}
          }
        },
        {
          "data": {"values": [{"t": "股朋指标网 飞龙: 78.56"}]},
          "mark": {"type": "text", "fontSize": 12.5, "color": "#d8d8d8", "align": "left", "baseline": "middle"},
          "encoding": {
            "x": {"datum": 5.9, "axis": null},
            "y": {"datum": 97.6, "axis": null},
            "text": {"field": "t"}
          }
        },
        {
          "data": {"values": [{"t": "在天: 82.25"}]},
          "mark": {"type": "text", "fontSize": 12.5, "color": "#ffff00", "align": "left", "baseline": "middle"},
          "encoding": {
            "x": {"datum": 53, "axis": null},
            "y": {"datum": 97.6, "axis": null},
            "text": {"field": "t"}
          }
        },
        {
          "data": {"values": [{}]},
          "mark": {"type": "rule", "color": "#c80000"},
          "encoding": {"y": {"datum": -2, "axis": null}}
        },
        {
          "data": {"values": [{}]},
          "mark": {"type": "rule", "color": "#c80000"},
          "encoding": {"x": {"datum": 401.1, "axis": null}}
        },
        {
          "data": {"values": [{}]},
          "mark": {"type": "rect", "color": "#000000", "opacity": 1},
          "encoding": {
            "x": {"datum": 352.3, "axis": null},
            "x2": {"datum": 406},
            "y": {"datum": 17.1, "axis": null},
            "y2": {"datum": -8}
          }
        },
        {
          "data": {"values": [{"t": "乐淘公式网"}]},
          "mark": {"type": "text", "fontSize": 23, "fontWeight": "bold", "color": "#ffffff", "align": "center", "baseline": "middle"},
          "encoding": {
            "x": {"datum": 375.7, "axis": null},
            "y": {"datum": 9.3, "axis": null},
            "text": {"field": "t"}
          }
        },
        {
          "data": {"values": [{"t": "www.60lt.com"}]},
          "mark": {"type": "text", "fontSize": 15, "fontWeight": "bold", "font": "Liberation Serif", "color": "#ffffff", "align": "center", "baseline": "middle"},
          "encoding": {
            "x": {"datum": 376, "axis": null},
            "y": {"datum": 0.6, "axis": null},
            "text": {"field": "t"}
          }
        },
        {
          "data": {"values": [{}]},
          "mark": {"type": "rect", "color": "#000080", "stroke": "#c80000", "strokeWidth": 1, "opacity": 1},
          "encoding": {
            "x": {"datum": 383.6, "axis": null},
            "x2": {"datum": 401.1},
            "y": {"datum": 54.6, "axis": null},
            "y2": {"datum": 48.8}
          }
        },
        {
          "data": {"values": [{"t": "48.09"}]},
          "mark": {"type": "text", "fontSize": 15, "font": "Liberation Sans", "color": "#d0d8ff", "align": "left", "baseline": "middle"},
          "encoding": {
            "x": {"datum": 384.1, "axis": null},
            "y": {"datum": 51.7, "axis": null},
            "text": {"field": "t"}
          }
        }
      ]
    }
  ]
}
